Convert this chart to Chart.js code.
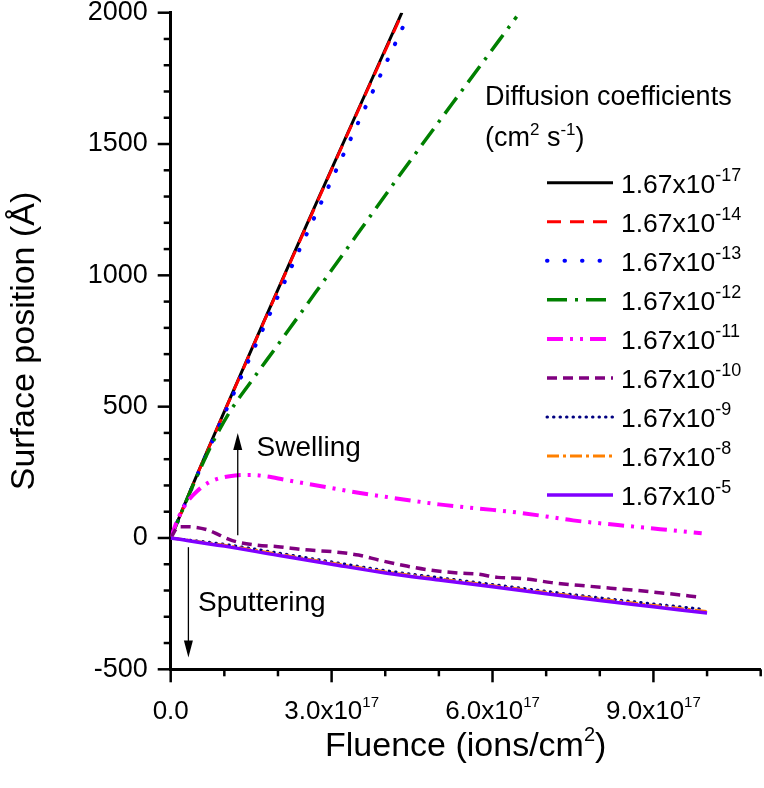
<!DOCTYPE html>
<html lang="en">
<head>
<meta charset="UTF-8">
<title>Surface position vs fluence</title>
<script src="https://cdn.jsdelivr.net/npm/chart.js@4"></script>
<style>
    html, body { margin: 0; padding: 0; background: #fff; }
    .wrap { width: 764px; height: 788px; position: relative; }
</style>
</head>
<body>
<div class="wrap"><canvas id="chart"></canvas></div>
<script>
// fluence is in units of 1e17 ions/cm2, surface position in Angstrom
const exponents = ['-17', '-14', '-13', '-12', '-11', '-10', '-9', '-8', '-5'];
const colors    = ['#000000', '#ff0000', '#0000ff', '#008000', '#ff00ff', '#800080', '#000080', '#ff8000', '#8000ff'];

const fl_17 = [0, 0.53, 2.99, 4.31];
const sp_17 = [0, 259, 1401, 2000];
const fl_14 = [0, 0.53, 2.99, 4.32];
const sp_14 = [0, 258, 1398, 2000];
const fl_13 = [0, 0.53, 3.0, 4.42];
const sp_13 = [0, 255, 1363, 1985];
const fl_12 = [0, 0.5, 0.8, 1.1, 1.5, 2, 3, 4.34, 5.5, 6.45];
const sp_12 = [0, 240, 370, 480, 596, 736, 1020, 1401, 1723, 1985];
const fl_11 = [0, 0.15, 0.3, 0.5, 0.7, 0.9, 1.2, 1.5, 1.8, 2.1, 2.5, 3.0, 3.5, 4.0, 4.5, 5.0, 5.5, 6.0, 6.5, 7.0, 7.5, 8.0, 8.5, 9.0, 9.5, 9.9];
const sp_11 = [0, 80, 135, 180, 210, 227, 238, 240, 234, 223, 208, 190, 172, 157, 142, 128, 117, 107, 96, 82, 67, 56, 46, 36, 26, 18];
const fl_10 = [0, 0.15, 0.4, 0.7, 0.9, 1.15, 1.6, 2.0, 2.5, 3.0, 3.5, 3.9, 4.4, 4.9, 5.4, 5.7, 6.1, 6.6, 7.1, 7.6, 8.2, 8.7, 9.2, 9.9];
const sp_10 = [0, 43, 42, 30, 12, -10, -27, -33, -45, -52, -65, -85, -107, -124, -134, -137, -150, -155, -170, -180, -191, -200, -210, -226];
const fl_9  = [0, 1, 2, 3, 4, 5, 6, 7, 8, 9, 9.95];
const sp_9  = [0, -24, -57, -91, -124, -151, -177, -203, -228, -251, -272];
const fl_8  = [0, 1, 2, 3, 4, 5, 6, 7, 8, 9, 10];
const sp_8  = [0, -28, -62, -96, -129, -156, -182, -208, -233, -257, -280];
const fl_5  = [0, 1, 2, 3, 4, 5, 6, 7, 8, 9, 10];
const sp_5  = [0, -31, -66, -100, -133, -160, -186, -212, -238, -262, -286];

const xTickLabels = [0, 3, 6, 9];

const series = [
    [fl_17, sp_17], [fl_14, sp_14], [fl_13, sp_13], [fl_12, sp_12], [fl_11, sp_11],
    [fl_10, sp_10], [fl_9, sp_9], [fl_8, sp_8], [fl_5, sp_5]
];
// line styles for each curve (same order)
const styles = [
    { w: 3,   dash: [],                   cap: 'butt' },
    { w: 3,   dash: [14, 9],              cap: 'butt' },
    { w: 4,   dash: [0.5, 17],            cap: 'round' },
    { w: 3.5, dash: [20, 8, 3, 8],        cap: 'butt' },
    { w: 4,   dash: [16, 7, 3, 7, 3, 7],  cap: 'butt' },
    { w: 3.5, dash: [10, 6],              cap: 'butt' },
    { w: 3,   dash: [0.5, 6],             cap: 'round' },
    { w: 3,   dash: [12, 4, 3, 4],        cap: 'butt' },
    { w: 3.5, dash: [],                   cap: 'butt' }
];

const FONT = "'Liberation Sans', Arial, sans-serif";

const datasets = series.map((s, i) => ({
    label: '1.67x10' + exponents[i],
    data: s[0].map((f, k) => ({ x: f, y: s[1][k] })),
    borderColor: colors[i],
    borderWidth: styles[i].w,
    borderDash: styles[i].dash,
    borderCapStyle: styles[i].cap,
    pointRadius: 0,
    fill: false,
    cubicInterpolationMode: 'monotone',
    order: -i
}));

// text with superscript parts; sup = [size, raise]
function supText(ctx, parts, x, y, size, align, sup) {
    sup = sup || [Math.round(size * 0.62), size * 0.45];
    let w = 0;
    parts.forEach(p => {
        ctx.font = (p.sup ? sup[0] : size) + 'px ' + FONT;
        w += ctx.measureText(p.t).width;
    });
    let cx = align === 'center' ? x - w / 2 : x;
    ctx.textAlign = 'left';
    ctx.textBaseline = 'alphabetic';
    parts.forEach(p => {
        ctx.font = (p.sup ? sup[0] : size) + 'px ' + FONT;
        ctx.fillText(p.t, cx, p.sup ? y - sup[1] : y);
        cx += ctx.measureText(p.t).width;
    });
    return w;
}

function arrow(ctx, x, y0, y1) {
    const dir = y1 < y0 ? -1 : 1;
    ctx.beginPath();
    ctx.moveTo(x, y0);
    ctx.lineTo(x, y1 - dir * 14);
    ctx.lineWidth = 1.3;
    ctx.strokeStyle = '#000';
    ctx.stroke();
    ctx.beginPath();
    ctx.moveTo(x, y1);
    ctx.lineTo(x - 4.5, y1 - dir * 17);
    ctx.lineTo(x + 4.5, y1 - dir * 17);
    ctx.closePath();
    ctx.fillStyle = '#000';
    ctx.fill();
}

const decorPlugin = {
    id: 'decor',
    afterDraw(chart) {
        const ctx = chart.ctx;
        const xs = chart.scales.x, ys = chart.scales.y;
        const area = chart.chartArea;
        ctx.save();
        ctx.fillStyle = '#000';
        ctx.strokeStyle = '#000';

        // tick marks
        ctx.lineWidth = 2.5;
        xs.ticks.forEach(t => {
            const px = xs.getPixelForValue(t.value);
            const len = Math.round(t.value) % 3 === 0 ? 13 : 7;
            ctx.beginPath();
            ctx.moveTo(px, area.bottom);
            ctx.lineTo(px, area.bottom + len);
            ctx.stroke();
        });
        ys.ticks.forEach(t => {
            const py = ys.getPixelForValue(t.value);
            const len = Math.round(t.value) % 500 === 0 ? 13 : 7;
            ctx.beginPath();
            ctx.moveTo(area.left, py);
            ctx.lineTo(area.left - len, py);
            ctx.stroke();
        });

        // x tick labels with superscript
        xTickLabels.forEach(v => {
            const px = xs.getPixelForValue(v);
            if (v === 0) {
                supText(ctx, [{ t: '0.0' }], px, 719, 26, 'center');
            } else {
                supText(ctx, [{ t: v.toFixed(1) + 'x10' }, { t: '17', sup: true }], px, 719, 26, 'center', [15, 12]);
            }
        });

        // axis titles
        supText(ctx, [{ t: 'Fluence (ions/cm' }, { t: '2', sup: true }, { t: ')' }],
            (area.left + area.right) / 2, 756, 34, 'center', [20, 15]);
        ctx.save();
        ctx.translate(34, (area.top + area.bottom) / 2);
        ctx.rotate(-Math.PI / 2);
        supText(ctx, [{ t: 'Surface position (\u00c5)' }], 0, 0, 34, 'center');
        ctx.restore();

        // annotations
        const ax = xs.getPixelForValue(1.25);
        arrow(ctx, ax, ys.getPixelForValue(10), ys.getPixelForValue(400));
        supText(ctx, [{ t: 'Swelling' }], xs.getPixelForValue(1.6), ys.getPixelForValue(312), 28, 'left');
        const bx = xs.getPixelForValue(0.33);
        arrow(ctx, bx, ys.getPixelForValue(-35), ys.getPixelForValue(-455));
        supText(ctx, [{ t: 'Sputtering' }], xs.getPixelForValue(0.51), ys.getPixelForValue(-277), 28, 'left');

        // legend
        supText(ctx, [{ t: 'Diffusion coefficients' }], 485, 105, 27, 'left');
        supText(ctx, [{ t: '(cm' }, { t: '2', sup: true }, { t: ' s' }, { t: '-1', sup: true }, { t: ')' }],
            485, 146, 27, 'left', [17, 11]);
        chart.data.datasets.forEach((ds, i) => {
            const cy = 182.7 + i * 39.05;
            ctx.save();
            ctx.beginPath();
            ctx.setLineDash(ds.borderDash);
            ctx.lineCap = ds.borderCapStyle;
            ctx.lineWidth = ds.borderWidth;
            ctx.strokeStyle = ds.borderColor;
            ctx.moveTo(547, cy);
            ctx.lineTo(613, cy);
            ctx.stroke();
            ctx.restore();
            ctx.fillStyle = '#000';
            supText(ctx, [{ t: '1.67x10' }, { t: exponents[i], sup: true }], 621, cy + 10, 26.5, 'left', [18, 12]);
        });
        ctx.restore();
    }
};

new Chart(document.getElementById('chart'), {
    type: 'line',
    data: { datasets },
    options: {
        responsive: true,
        maintainAspectRatio: false,
        devicePixelRatio: 1,
        animation: false,
        layout: { padding: { top: 12.7, right: 3.3, left: 0, bottom: 0 } },
        plugins: { legend: { display: false }, tooltip: { enabled: false } },
        scales: {
            x: {
                type: 'linear',
                min: 0,
                max: 11,
                grid: { drawOnChartArea: false, drawTicks: false, color: 'transparent' },
                border: { display: true, color: '#000', width: 3 },
                ticks: { stepSize: 1, autoSkip: false, maxRotation: 0, callback: () => '' },
                afterFit: s => { s.height = 118.7; }
            },
            y: {
                min: -500,
                max: 2000,
                grid: { drawOnChartArea: false, drawTicks: true, tickLength: 23, color: 'transparent' },
                border: { display: true, color: '#000', width: 3 },
                ticks: {
                    stepSize: 100,
                    autoSkip: false,
                    padding: 0,
                    color: '#000',
                    font: { family: FONT, size: 27, lineHeight: 0.9 },
                    callback: v => (Math.round(v) % 500 === 0 ? String(v) : '')
                },
                afterFit: s => { s.width = 170.7; }
            }
        }
    },
    plugins: [decorPlugin]
});
</script>
</body>
</html>
